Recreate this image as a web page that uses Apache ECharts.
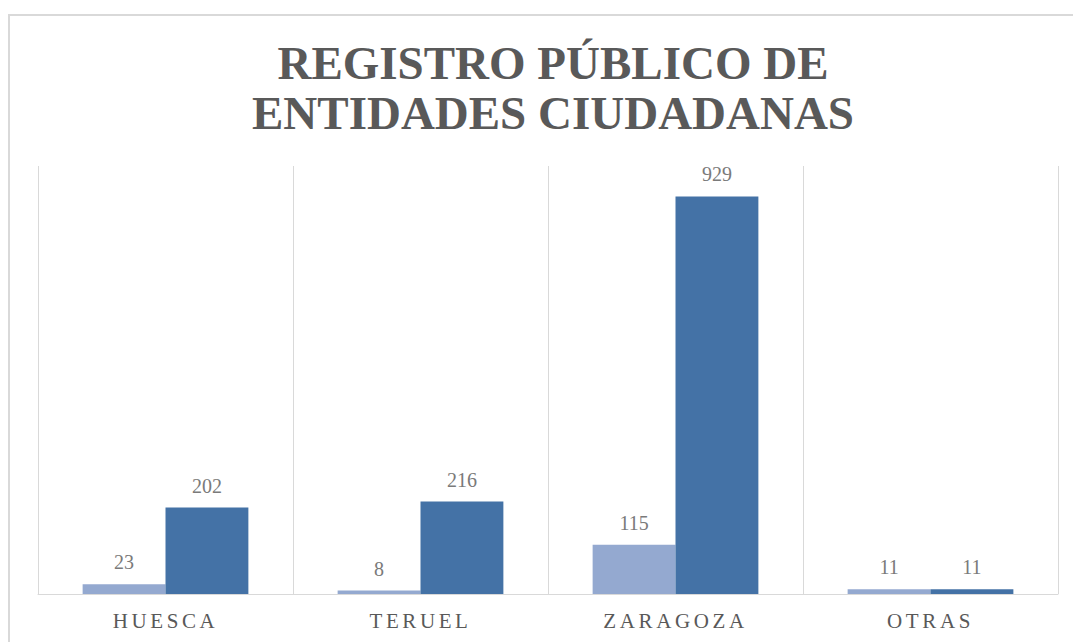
<!DOCTYPE html>
<html>
<head>
<meta charset="utf-8">
<script src="https://cdn.jsdelivr.net/npm/echarts@6/dist/echarts.min.js"></script>
<style>
  html, body { margin: 0; padding: 0; background: #fff; }
  #chart { width: 1073px; height: 642px; }
  /* axis labels are letter-spaced in the original */
  #chart text[style*="21px"] { letter-spacing: 3.6px; }
</style>
</head>
<body>
<div id="chart"></div>
<script>
const categories = ['HUESCA', 'TERUEL', 'ZARAGOZA', 'OTRAS']
const seriesA = [23, 8, 115, 11]
const seriesB = [202, 216, 929, 11]

const myChart = echarts.init(document.getElementById('chart'), null, { renderer: 'svg' })

const labelStyle = {
  show: true,
  position: 'top',
  distance: 12,
  color: '#7a7a7a',
  fontFamily: 'Liberation Serif',
  fontSize: 20
}

const option = {
  animation: false,
  backgroundColor: '#fff',
  title: {
    text: 'REGISTRO PÚBLICO DE\nENTIDADES CIUDADANAS',
    left: 548,
    top: 33,
    textAlign: 'center',
    textStyle: {
      fontFamily: 'Liberation Serif',
      fontWeight: 'bold',
      fontSize: 47,
      lineHeight: 50,
      color: '#595959'
    }
  },
  graphic: [
    {
      type: 'rect',
      shape: { x: 9, y: 15, width: 1200, height: 800 },
      style: { fill: 'none', stroke: '#d9d9d9', lineWidth: 2 },
      silent: true
    }
  ],
  grid: {
    left: 38,
    right: 15,
    top: 166,
    bottom: 48
  },
  xAxis: {
    type: 'category',
    data: categories,
    boundaryGap: true,
    axisLine: { lineStyle: { color: '#d9d9d9', width: 1 } },
    axisTick: { show: false },
    splitLine: { show: true, lineStyle: { color: '#d9d9d9', width: 1 } },
    axisLabel: {
      margin: 16,
      color: '#595959',
      fontFamily: 'Liberation Serif',
      fontSize: 21
    }
  },
  yAxis: {
    type: 'value',
    min: 0,
    max: 1000,
    show: false,
    splitLine: { show: false }
  },
  series: [
    {
      name: 'A',
      type: 'bar',
      data: seriesA,
      barGap: '0%',
      barCategoryGap: '35%',
      itemStyle: { color: '#94a9d0' },
      label: labelStyle
    },
    {
      name: 'B',
      type: 'bar',
      data: seriesB,
      barGap: '0%',
      barCategoryGap: '35%',
      itemStyle: { color: '#4472a6' },
      label: labelStyle
    }
  ]
}
myChart.setOption(option)
</script>
</body>
</html>
